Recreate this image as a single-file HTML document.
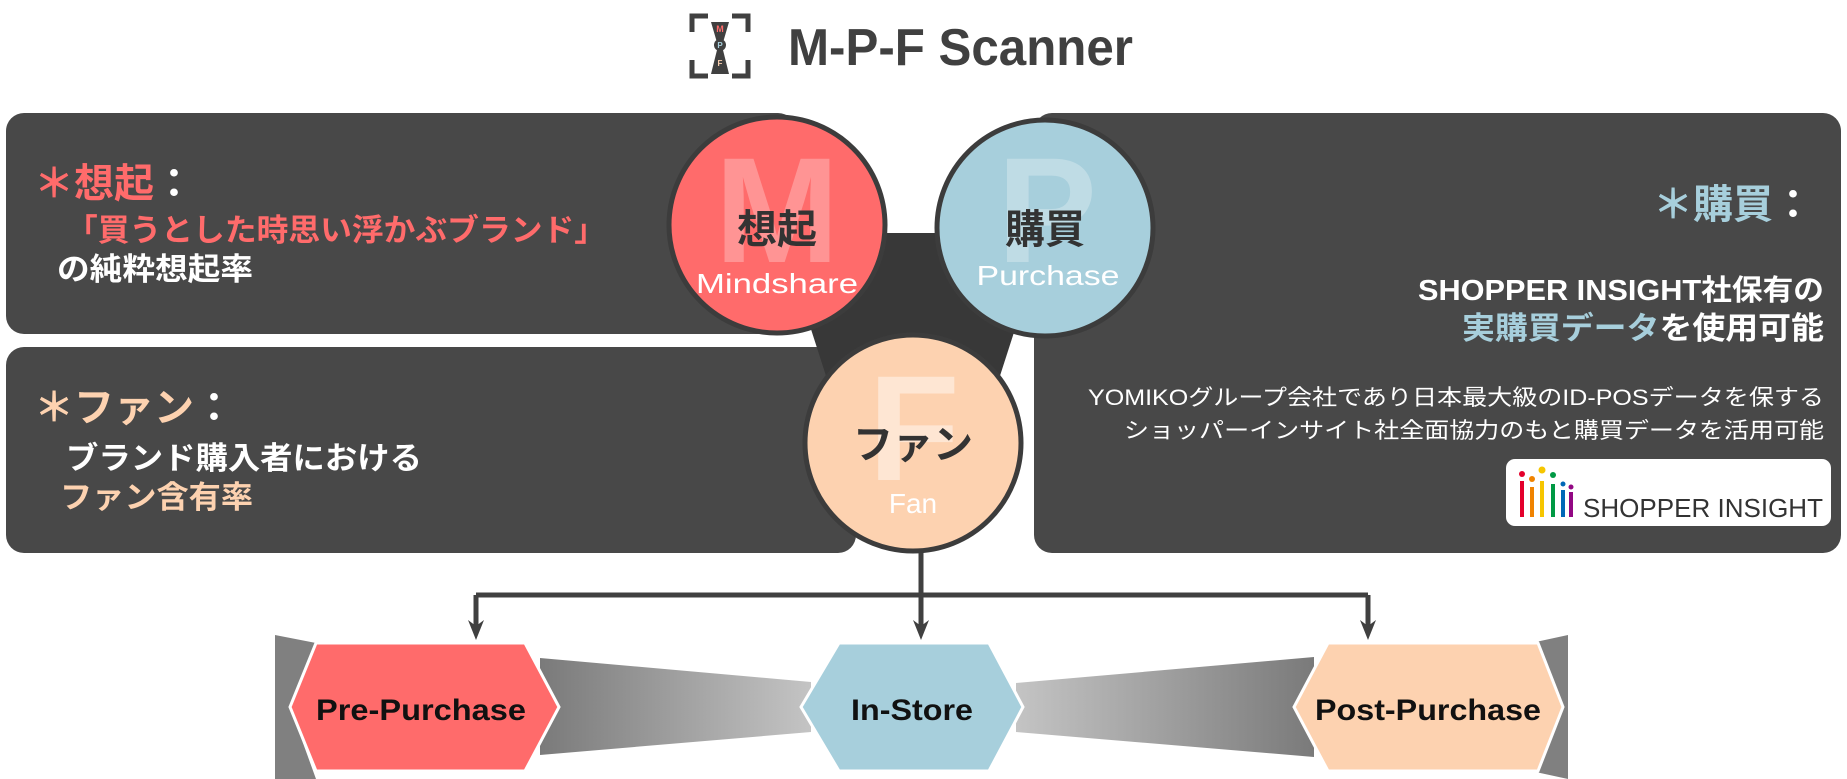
<!DOCTYPE html>
<html><head><meta charset="utf-8"><style>
html,body{margin:0;padding:0;background:#fff;}
svg{display:block;}
text{font-family:"Liberation Sans","Noto Sans CJK JP",sans-serif;}
</style></head><body>
<svg width="1847" height="779" viewBox="0 0 1847 779" xmlns="http://www.w3.org/2000/svg">
<defs>
<linearGradient id="gl" x1="0" x2="1" y1="0" y2="0"><stop offset="0" stop-color="#7a7a7a"/><stop offset="1" stop-color="#c4c4c4"/></linearGradient>
<linearGradient id="gr" x1="0" x2="1" y1="0" y2="0"><stop offset="0" stop-color="#c4c4c4"/><stop offset="1" stop-color="#7a7a7a"/></linearGradient>
</defs>
<g fill="none" stroke="#404040" stroke-width="5">
<path d="M692 32 V16 H708"/><path d="M732 16 H748 V32"/>
<path d="M692 60 V76 H708"/><path d="M732 76 H748 V60"/>
</g>
<path d="M711 22 H729 L722 46 L729 74 H711 L718 46 Z" fill="#404040"/>
<circle cx="720" cy="45" r="6" fill="#404040"/>
<text x="720" y="32" font-size="9" font-weight="bold" fill="#ff6b6b" text-anchor="middle">M</text>
<text x="720" y="48" font-size="8" font-weight="bold" fill="#a7cfdc" text-anchor="middle">P</text>
<text x="720" y="66" font-size="8" font-weight="bold" fill="#fdd2b0" text-anchor="middle">F</text>
<text x="788" y="65" font-size="52" font-weight="bold" fill="#404040" textLength="345" lengthAdjust="spacingAndGlyphs">M-P-F Scanner</text>

<rect x="6" y="113" width="790" height="221" rx="18" fill="#484848"/>
<rect x="6" y="347" width="850" height="206" rx="18" fill="#484848"/>
<rect x="1034" y="113" width="807" height="440" rx="18" fill="#484848"/>
<polygon points="780,233 1046,233 960,500 866,500" fill="#383838"/>

<circle cx="777" cy="225" r="108" fill="#ff6b6b" stroke="#3c3c3c" stroke-width="5"/>
<text x="777" y="262" font-size="150" font-weight="bold" fill="#fff" fill-opacity="0.28" text-anchor="middle">M</text>
<text x="777" y="243" font-size="40" font-weight="bold" fill="#333" text-anchor="middle">想起</text>
<text x="777" y="293" font-size="28" fill="#fff" text-anchor="middle" textLength="162" lengthAdjust="spacingAndGlyphs">Mindshare</text>

<circle cx="1045" cy="228" r="108" fill="#a7cfdc" stroke="#3c3c3c" stroke-width="5"/>
<text x="1047" y="262" font-size="150" font-weight="bold" fill="#fff" fill-opacity="0.28" text-anchor="middle">P</text>
<text x="1045" y="243" font-size="40" font-weight="bold" fill="#333" text-anchor="middle">購買</text>
<text x="1048" y="285" font-size="28" fill="#fff" text-anchor="middle" textLength="143" lengthAdjust="spacingAndGlyphs">Purchase</text>

<circle cx="913" cy="443" r="108" fill="#fdd2b0" stroke="#3c3c3c" stroke-width="5"/>
<text x="914" y="480" font-size="150" font-weight="bold" fill="#fff" fill-opacity="0.45" text-anchor="middle">F</text>
<text x="913" y="458" font-size="40" font-weight="bold" fill="#333" text-anchor="middle">ファン</text>
<text x="913" y="513" font-size="28" fill="#fff" text-anchor="middle">Fan</text>

<text x="34" y="197" font-size="40" font-weight="bold" fill="#ff6b6b">＊想起<tspan fill="#fff">：</tspan></text>
<text x="66" y="241" font-size="31" font-weight="bold" fill="#ff6b6b" textLength="540" lengthAdjust="spacingAndGlyphs">「買うとした時思い浮かぶブランド」</text>
<text x="57" y="280" font-size="31" font-weight="bold" fill="#fff" textLength="196" lengthAdjust="spacingAndGlyphs">の純粋想起率</text>
<text x="34" y="421" font-size="40" font-weight="bold" fill="#fdd2b0">＊ファン<tspan fill="#fff">：</tspan></text>
<text x="66" y="469" font-size="31" font-weight="bold" fill="#fff" textLength="356" lengthAdjust="spacingAndGlyphs">ブランド購入者における</text>
<text x="60" y="508" font-size="31" font-weight="bold" fill="#fdd2b0" textLength="193" lengthAdjust="spacingAndGlyphs">ファン含有率</text>

<text x="1813" y="218" font-size="40" font-weight="bold" fill="#a7cfdc" text-anchor="end">＊購買<tspan fill="#fff">：</tspan></text>
<text x="1824" y="300" font-size="29" font-weight="bold" fill="#fff" text-anchor="end" textLength="406" lengthAdjust="spacingAndGlyphs">SHOPPER INSIGHT社保有の</text>
<text x="1824" y="339" font-size="31" font-weight="bold" fill="#fff" text-anchor="end" textLength="362" lengthAdjust="spacingAndGlyphs"><tspan fill="#a7cfdc">実購買データ</tspan>を使用可能</text>
<text x="1824" y="405" font-size="22" fill="#fff" text-anchor="end" textLength="736" lengthAdjust="spacingAndGlyphs">YOMIKOグループ会社であり日本最大級のID-POSデータを保する</text>
<text x="1824" y="438" font-size="22" fill="#fff" text-anchor="end" textLength="700" lengthAdjust="spacingAndGlyphs">ショッパーインサイト社全面協力のもと購買データを活用可能</text>
<rect x="1506" y="459" width="325" height="67" rx="9" fill="#fff"/>
<g>
<rect x="1520" y="481" width="4" height="36" fill="#e4002b"/><circle cx="1522" cy="474" r="3" fill="#e4002b"/>
<rect x="1530" y="487" width="4" height="30" fill="#f08300"/><circle cx="1532" cy="479" r="3" fill="#f08300"/>
<rect x="1540" y="481" width="4" height="36" fill="#f6c600"/><circle cx="1542" cy="470" r="3.5" fill="#f6c600"/>
<rect x="1551" y="484" width="4" height="33" fill="#009944"/><circle cx="1553" cy="475" r="3" fill="#009944"/>
<rect x="1561" y="490" width="4" height="27" fill="#0068b7"/><circle cx="1563" cy="484" r="2.5" fill="#0068b7"/>
<rect x="1569" y="492" width="4" height="25" fill="#920783"/><circle cx="1571" cy="487" r="2.5" fill="#920783"/>
</g>
<text x="1823" y="517" font-size="26" fill="#333" text-anchor="end" textLength="240" lengthAdjust="spacingAndGlyphs">SHOPPER INSIGHT</text>

<g stroke="#404040" stroke-width="5" fill="none">
<path d="M921 553 V595"/><path d="M476 595 H1368"/>
<path d="M476 595 V630"/><path d="M921 595 V630"/><path d="M1368 595 V630"/>
</g>
<g fill="#404040">
<polygon points="468,620 476,640 484,620 476,626"/>
<polygon points="913,620 921,640 929,620 921,626"/>
<polygon points="1360,620 1368,640 1376,620 1368,626"/>
</g>

<polygon points="275,635 316,643 290,707 316,779 275,779" fill="#808080"/>
<polygon points="1531,643 1568,635 1568,779 1531,771 1563,707" fill="#808080"/>
<polygon points="540,658 811,682 811,732 540,755" fill="url(#gl)"/>
<polygon points="1016,683 1314,657 1314,757 1016,732" fill="url(#gr)"/>
<polygon points="316,643 525,643 559,707 525,771 316,771 290,707" fill="#ff6b6b" stroke="#fff" stroke-width="3"/>
<polygon points="839,643 989,643 1023,707 989,771 839,771 801,707" fill="#a7cfdc" stroke="#fff" stroke-width="3"/>
<polygon points="1328,643 1538,643 1563,707 1538,771 1328,771 1294,707" fill="#fdd2b0" stroke="#fff" stroke-width="3"/>
<text x="421" y="720" font-size="30" font-weight="bold" fill="#111" text-anchor="middle" textLength="210" lengthAdjust="spacingAndGlyphs">Pre-Purchase</text>
<text x="912" y="720" font-size="30" font-weight="bold" fill="#111" text-anchor="middle" textLength="122" lengthAdjust="spacingAndGlyphs">In-Store</text>
<text x="1428" y="720" font-size="30" font-weight="bold" fill="#111" text-anchor="middle" textLength="226" lengthAdjust="spacingAndGlyphs">Post-Purchase</text>
</svg>
</body></html>
